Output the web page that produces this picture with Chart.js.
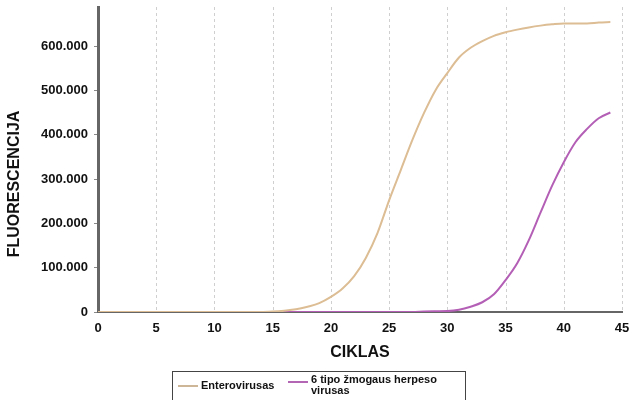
<!DOCTYPE html>
<html>
<head>
<meta charset="utf-8">
<script src="https://cdn.jsdelivr.net/npm/chart.js@4"></script>
<style>
body{margin:0;background:#fff;}
#wrap{position:relative;width:633px;height:400px;}
#legend{position:absolute;left:172px;top:371px;width:294px;height:34px;border:1.5px solid #444;box-sizing:border-box;
  font:bold 11px Arial,"Liberation Sans",sans-serif;color:#111;}
.item{position:absolute;top:0;display:flex;align-items:flex-start;}
.swatch{display:inline-block;width:20px;height:2px;margin-right:3px;}
</style>
</head>
<body>
<div id="wrap">
<canvas id="chart" width="633" height="400"></canvas>
<div id="legend">
  <div class="item" style="left:5px;top:7px;"><span class="swatch" style="background:#cdb597;margin-top:6px"></span>Enterovirusas</div>
  <div class="item" style="left:115px;top:2px;line-height:11px;"><span class="swatch" style="background:#b266b4;margin-top:7px"></span><span>6 tipo žmogaus herpeso<br>virusas</span></div>
</div>
</div>
<script>

const cycles=[0,1,2,3,4,5,6,7,8,9,10,11,12,13,14,15,16,17,18,19,20,21,22,23,24,25,26,27,28,29,30,31,32,33,34,35,36,37,38,39,40,41,42,43,44];

const enterovirus=[0,0,0,0,0,0,0,0,0,0,0,0,0,0,0,1000,3000,6000,12000,20000,34000,53000,81000,122000,178000,252000,320000,388000,449000,501000,539000,574000,596000,611000,623000,631000,637000,642000,646000,649000,651000,651000,651000,653000,654000];

const hhv6=[0,0,0,0,0,0,0,0,0,0,0,0,0,0,0,0,0,0,0,0,0,0,0,0,0,0,0,0,1000,1500,2000,5000,12000,22000,40000,72000,110000,162000,224000,285000,338000,383000,413000,437000,450000];

const yTicks=[0,100000,200000,300000,400000,500000,600000];
const yTitle="FLUORESCENCIJA";

function toPoints(vals){
    return vals.map((v,i)=>({x:cycles[i],y:v}));
}

function fmt(v){
    return String(v).replace(/\B(?=(\d{3})+(?!\d))/g,".");
}

const canvas=document.getElementById("chart");

new Chart(canvas,{
    type:"line",
    data:{
        datasets:[{
            label:"Enterovirusas",
            data:toPoints(enterovirus),
            borderColor:"#dcbd94",
            borderWidth:2,
            pointRadius:0,
            cubicInterpolationMode:"monotone"
        },{
            label:"6 tipo žmogaus herpeso virusas",
            data:toPoints(hhv6),
            borderColor:"#b45fb6",
            borderWidth:2,
            pointRadius:0,
            cubicInterpolationMode:"monotone"
        }]
    },
    options:{
        responsive:false,
        animation:false,
        layout:{padding:{top:7,right:11,bottom:38,left:0}},
        plugins:{legend:{display:false},tooltip:{enabled:false}},
        scales:{
            x:{
                type:"linear",
                min:0,max:45,
                afterFit:s=>{s.height=50;s.paddingLeft=0;s.paddingRight=0;},
                ticks:{stepSize:5,color:"#111",font:{family:"Arial",size:13,weight:"bold"},padding:9},
                grid:{drawOnChartArea:false,drawTicks:false},
                border:{display:true,color:"#666",width:2},
                title:{display:true,text:"CIKLAS",color:"#111",font:{family:"Arial",size:16,weight:"bold"},padding:{top:4,bottom:0}}
            },
            y:{
                min:0,max:688000,
                afterFit:s=>{s.width=98;s.paddingTop=0;s.paddingBottom=0;},
                afterBuildTicks:s=>{s.ticks=yTicks.map(v=>({value:v}));},
                ticks:{callback:v=>fmt(v),color:"#111",font:{family:"Arial",size:13,weight:"bold"},padding:6},
                grid:{drawOnChartArea:false,tickLength:4,color:"#888"},
                border:{color:"#666",width:3},
                title:{display:false}
            }
        }
    },
    plugins:[{
        id:"dashgrid",
        beforeDatasetsDraw(chart){
            const ctx=chart.ctx, xs=chart.scales.x, a=chart.chartArea;
            ctx.save();
            ctx.setLineDash([3,3]);
            ctx.strokeStyle="#cfcfcf";
            ctx.lineWidth=1;
            for(let v=5;v<=45;v+=5){
                const px=Math.round(xs.getPixelForValue(v))+0.5;
                ctx.beginPath();ctx.moveTo(px,a.top);ctx.lineTo(px,a.bottom);ctx.stroke();
            }
            ctx.restore();
        },
        afterDraw(chart){
            // y title sits a bit below the middle of the axis in the original
            const ctx=chart.ctx, a=chart.chartArea;
            ctx.save();
            ctx.translate(15,a.bottom-128);
            ctx.rotate(-Math.PI/2);
            ctx.font="bold 16px Arial";
            ctx.fillStyle="#111";
            ctx.textAlign="center";
            ctx.textBaseline="middle";
            ctx.fillText(yTitle,0,0);
            ctx.restore();
        }
    }]
});

</script>
</body>
</html>
